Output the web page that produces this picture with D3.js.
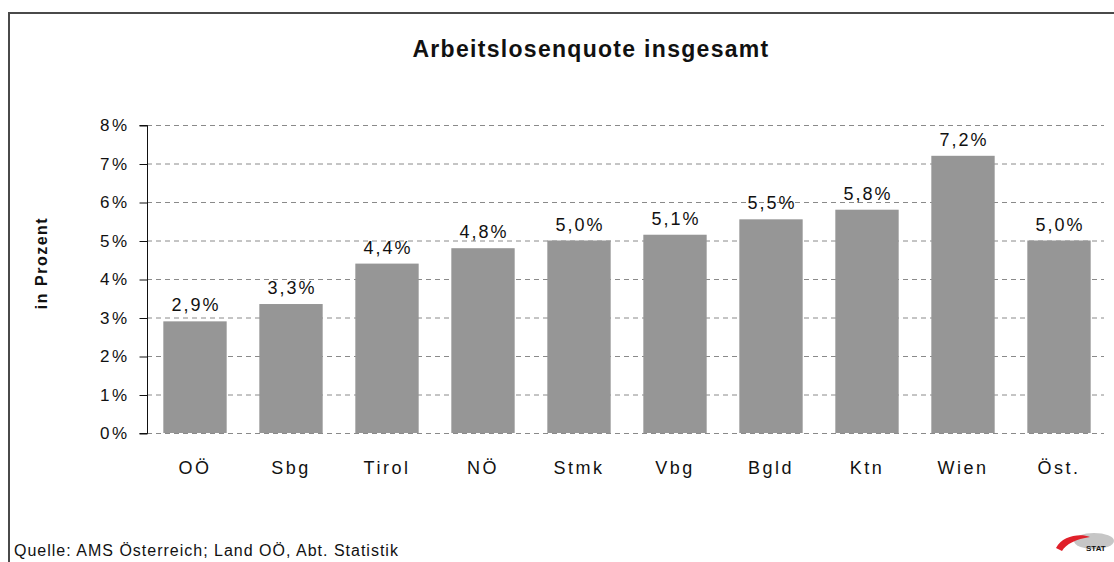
<!DOCTYPE html>
<html><head><meta charset="utf-8">
<script src="https://cdn.jsdelivr.net/npm/d3@7"></script>
<style>
body{margin:0;background:#fff;}
text{font-family:"Liberation Sans",Arial,sans-serif;fill:#111;}
</style></head>
<body><svg id="c" width="1114" height="562"></svg>
<script>
const categories = ["OÖ","Sbg","Tirol","NÖ","Stmk","Vbg","Bgld","Ktn","Wien","Öst."];
const values = [2.9,3.35,4.4,4.8,5.0,5.15,5.55,5.8,7.2,5.0];
const valueLabels = ["2,9%","3,3%","4,4%","4,8%","5,0%","5,1%","5,5%","5,8%","7,2%","5,0%"];
const yTicks = [0,1,2,3,4,5,6,7,8];
const title = "Arbeitslosenquote insgesamt";
const yTitle = "in Prozent";
const source = "Quelle: AMS Österreich; Land OÖ, Abt. Statistik";

const svg = d3.select("#c");
// frame
svg.append("rect").attr("x",9).attr("y",13).attr("width",1200).attr("height",700)
  .attr("fill","none").attr("stroke","#4a4a4a").attr("stroke-width",2);

const x = d3.scaleBand().domain(categories).range([147,1107]).paddingInner(0.34).paddingOuter(0.17);
const y = d3.scaleLinear().domain([0,8]).range([433,125]);

// gridlines
svg.append("g").selectAll("line").data(yTicks).join("line")
  .attr("x1",147).attr("x2",1104).attr("y1",d=>y(d)+0.5).attr("y2",d=>y(d)+0.5)
  .attr("stroke","#8a8a8a").attr("stroke-width",1).attr("stroke-dasharray","5,4");

// bars
svg.append("g").selectAll("rect").data(values).join("rect")
  .attr("x",(d,i)=>x(categories[i])).attr("width",x.bandwidth())
  .attr("y",d=>y(d)).attr("height",d=>y(0)-y(d)).attr("fill","#969696");

// value labels
svg.append("g").selectAll("text").data(values).join("text")
  .attr("x",(d,i)=>x(categories[i])+x.bandwidth()/2+1).attr("y",d=>y(d)-10)
  .attr("text-anchor","middle").attr("font-size",18).attr("letter-spacing","2px")
  .text((d,i)=>valueLabels[i]);

// y axis
const yAxis = d3.axisLeft(y).tickValues(yTicks).tickFormat(d=>d+"%").tickSize(8).tickPadding(10);
const ga = svg.append("g").attr("transform","translate(147.5,0.5)").call(yAxis);
ga.select(".domain").attr("stroke","#111").attr("d","M-8,"+y(8)+"H0V"+y(0)+"H-8");
ga.selectAll(".tick line").attr("stroke","#111");
ga.selectAll(".tick text").attr("font-size",17).attr("letter-spacing","2.5px").attr("fill","#222")
  .attr("font-family","Liberation Sans, Arial, sans-serif");

// x axis labels
const xAxis = d3.axisBottom(x).tickSize(0).tickPadding(0);
const gx = svg.append("g").attr("transform","translate(0,433)").call(xAxis);
gx.select(".domain").remove();
gx.selectAll(".tick text").attr("dy",0).attr("y",41).attr("font-size",18).attr("letter-spacing","2.5px")
  .attr("fill","#111").attr("font-family","Liberation Sans, Arial, sans-serif");

// title
svg.append("text").attr("x",591).attr("y",57).attr("text-anchor","middle")
  .attr("font-size",23).attr("font-weight","bold").attr("letter-spacing","1.3px").text(title);

// y title
svg.append("text").attr("transform","translate(47,263) rotate(-90)").attr("text-anchor","middle")
  .attr("font-size",16).attr("font-weight","bold").attr("letter-spacing","1.5px").text(yTitle);

// source
svg.append("text").attr("x",14).attr("y",556).attr("font-size",16).attr("letter-spacing","1px").text(source);

// logo (approximation)
const lg = svg.append("g").attr("transform","translate(1072,544)");
lg.append("ellipse").attr("cx",22).attr("cy",-3).attr("rx",20).attr("ry",8).attr("fill","#b8b8b8").attr("opacity",0.8);
lg.append("path").attr("d","M-16,4 C-10,-8 8,-11 18,-7 C4,-5 -6,0 -10,7 Z").attr("fill","#e0202a");
lg.append("text").attr("x",14).attr("y",7).attr("font-size",8).attr("font-weight","bold").attr("fill","#b03030").text("STAT");
</script></body></html>
